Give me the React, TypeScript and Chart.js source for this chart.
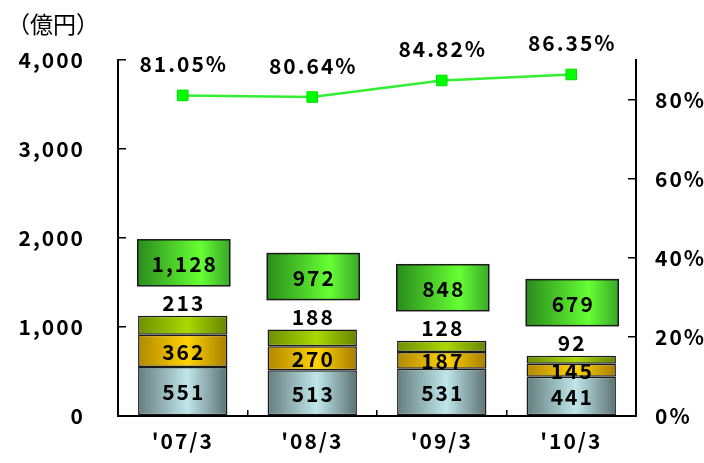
import React, { useEffect, useRef } from 'react';
import { Chart, registerables } from 'chart.js';

Chart.register(...registerables);

const categories = ["'07/3", "'08/3", "'09/3", "'10/3"];
const seriesBottom = [551, 513, 531, 441];
const seriesMiddle = [362, 270, 187, 145];
const seriesTop = [213, 188, 128, 92];
const totals = [1128, 972, 848, 679];
const ratios = [81.05, 80.64, 84.82, 86.35];
const unitLabel = '（億円）';

const FONT = '"Noto Sans CJK JP", "Noto Sans", sans-serif';
const BAR_FRACTION = 0.69;

type Stop = [number, string];
const bottomStops: Stop[] = [[0, '#647e7e'], [0.55, '#c0e6ea'], [1, '#5a7272']];
const middleStops: Stop[] = [[0, '#b08800'], [0.55, '#ffd200'], [1, '#a67e00']];
const topStops: Stop[] = [[0, '#6f8f00'], [0.55, '#aad800'], [1, '#668400']];
const boxStops: Stop[] = [[0, '#2a8c1c'], [0.68, '#66ff33'], [1, '#3aa828']];

function barGradient(stops: Stop[]) {
  return (c: any) => {
    const chart = c.chart;
    const xs = chart.scales && chart.scales.x;
    if (!xs || !chart.chartArea || c.dataIndex === undefined) return stops[1][1];
    const cx = xs.getPixelForValue(c.dataIndex);
    const hw = ((xs.width / categories.length) * BAR_FRACTION) / 2;
    const g = chart.ctx.createLinearGradient(cx - hw, 0, cx + hw, 0);
    stops.forEach(([o, col]) => g.addColorStop(o, col));
    return g;
  };
}

const labelPlugin = {
  id: 'valueLabels',
  beforeDraw(chart: any) {
    chart.ctx.letterSpacing = '2px';
  },
  afterDatasetsDraw(chart: any) {
    const ctx = chart.ctx;
    ctx.save();
    ctx.letterSpacing = '2px';
    ctx.font = `bold 21px ${FONT}`;
    ctx.fillStyle = '#000';
    ctx.textAlign = 'center';
    ctx.textBaseline = 'middle';
    const m0 = chart.getDatasetMeta(0);
    const m1 = chart.getDatasetMeta(1);
    const m2 = chart.getDatasetMeta(2);
    const m3 = chart.getDatasetMeta(3);
    m0.data.forEach((el: any, i: number) => {
      ctx.fillText(String(seriesBottom[i]), el.x + 1, (el.y + el.base) / 2 + 1);
    });
    m1.data.forEach((el: any, i: number) => {
      ctx.fillText(String(seriesMiddle[i]), el.x + 1, (el.y + el.base) / 2 + 1);
    });
    m2.data.forEach((el: any, i: number) => {
      ctx.fillText(String(seriesTop[i]), el.x + 1, el.y - 13);
      // total label box
      const bw = 92;
      const bh = 46;
      const bx = el.x - bw / 2 + 1;
      const by = el.y - 30 - bh;
      const g = ctx.createLinearGradient(bx, 0, bx + bw, 0);
      boxStops.forEach(([o, col]) => g.addColorStop(o, col));
      ctx.fillStyle = g;
      ctx.fillRect(bx, by, bw, bh);
      ctx.lineWidth = 1.5;
      ctx.strokeStyle = '#1a1a1a';
      ctx.strokeRect(bx, by, bw, bh);
      ctx.fillStyle = '#000';
      ctx.fillText(totals[i].toLocaleString('en-US'), bx + bw / 2 + 1, by + bh / 2 + 1);
    });
    m3.data.forEach((pt: any, i: number) => {
      ctx.fillText(ratios[i].toFixed(2) + '%', pt.x + 1, pt.y - 31);
    });
    ctx.restore();
  },
  afterDraw(chart: any) {
    const ctx = chart.ctx;
    ctx.save();
    ctx.letterSpacing = '0px';
    ctx.font = `23px ${FONT}`;
    ctx.fillStyle = '#000';
    ctx.textAlign = 'left';
    ctx.textBaseline = 'middle';
    ctx.fillText(unitLabel, 7, 24);
    ctx.restore();
  },
};

const tickFont = { family: FONT, size: 21, weight: 'bold' as const };

export default function App() {
  const ref = useRef<HTMLCanvasElement | null>(null);
  useEffect(() => {
    if (!ref.current) return;
    const barCommon = {
      type: 'bar' as const,
      stack: 'a',
      yAxisID: 'y',
      categoryPercentage: 1,
      barPercentage: BAR_FRACTION,
      borderWidth: 1.5,
      borderColor: '#1a1a1a',
      borderSkipped: false,
    };
    const chart = new Chart(ref.current, {
      type: 'bar',
      data: {
        labels: categories,
        datasets: [
          { ...barCommon, label: 'A', data: seriesBottom, backgroundColor: barGradient(bottomStops) },
          { ...barCommon, label: 'B', data: seriesMiddle, backgroundColor: barGradient(middleStops) },
          { ...barCommon, label: 'C', data: seriesTop, backgroundColor: barGradient(topStops) },
          {
            type: 'line',
            label: 'ratio',
            data: ratios,
            yAxisID: 'y1',
            borderColor: '#33ee33',
            borderWidth: 2.5,
            pointStyle: 'rect',
            pointRadius: 7.5,
            pointBackgroundColor: '#00ff00',
            pointBorderColor: '#00e000',
            pointBorderWidth: 1,
            tension: 0,
          } as any,
        ],
      },
      options: {
        animation: false,
        responsive: false,
        layout: { padding: { top: 60, left: 0, right: 0, bottom: 0 } },
        plugins: { legend: { display: false }, tooltip: { enabled: false } },
        scales: {
          x: {
            type: 'category',
            offset: true,
            stacked: true,
            grid: { offset: true, drawOnChartArea: false, tickLength: -6, color: '#000', lineWidth: 1.5 },
            border: { color: '#000', width: 2 },
            ticks: { font: tickFont, color: '#000', padding: 18, maxRotation: 0 },
            afterFit: (s: any) => { s.height = 47; s.paddingLeft = 0; s.paddingRight = 0; },
          },
          y: {
            position: 'left',
            stacked: true,
            min: 0,
            max: 4000,
            grid: { drawOnChartArea: false, tickLength: -8, color: '#000', lineWidth: 1.5 },
            border: { color: '#000', width: 2 },
            ticks: {
              stepSize: 1000,
              font: tickFont,
              color: '#000',
              padding: 41,
              callback: (v: any) => Number(v).toLocaleString('en-US'),
            },
            afterFit: (s: any) => { s.width = 118; s.paddingTop = 0; s.paddingBottom = 0; },
          },
          y1: {
            position: 'right',
            min: 0,
            max: 90,
            grid: { drawOnChartArea: false, tickLength: -8, color: '#000', lineWidth: 1.5 },
            border: { color: '#000', width: 2 },
            ticks: {
              stepSize: 20,
              font: tickFont,
              color: '#000',
              padding: 27,
              callback: (v: any) => v + '%',
            },
            afterBuildTicks: (s: any) => {
              s.ticks = s.ticks.filter((t: any) => t.value % 20 === 0);
            },
            afterFit: (s: any) => { s.width = 68; s.paddingTop = 0; s.paddingBottom = 0; },
          },
        },
      } as any,
      plugins: [labelPlugin],
    });
    return () => chart.destroy();
  }, []);
  return (
    <div style={{ position: 'absolute', left: 0, top: 0, width: 704, height: 463, background: '#fff' }}>
      <canvas ref={ref} width={704} height={463} style={{ display: 'block' }} />
    </div>
  );
}
